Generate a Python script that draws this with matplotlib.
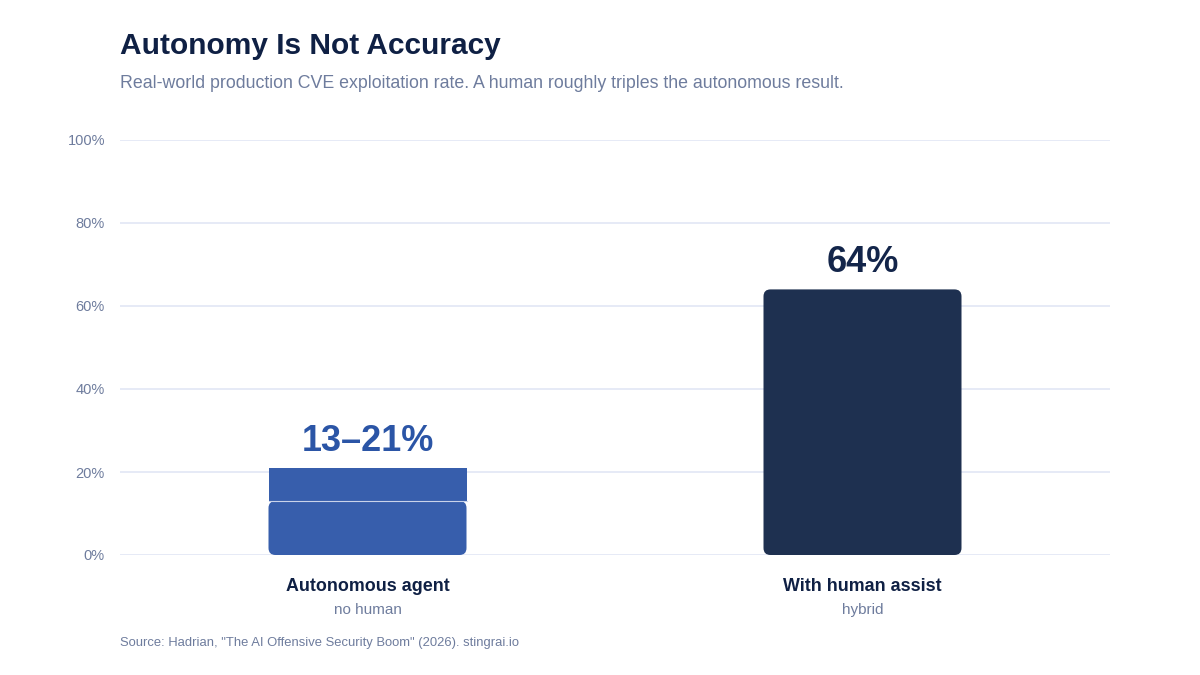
import matplotlib.pyplot as plt
from matplotlib.patches import FancyBboxPatch, Rectangle

plt.rcParams['font.family'] = ['Liberation Sans', 'DejaVu Sans']

# data
categories = ["Autonomous agent", "With human assist"]
sublabels = ["no human", "hybrid"]
range_low = [13, None]
range_high = [21, 64]
value_labels = ["13\u201321%", "64%"]
yticks = [0, 20, 40, 60, 80, 100]

bar_colors = ["#375EAC", "#1E3050"]
label_colors = ["#2B55A6", "#13254A"]
grid_c = "#E6EAF6"
muted = "#6E7C9D"
dark = "#0F2044"

fig = plt.figure(figsize=(12, 6.75), dpi=100)
ax = fig.add_axes([0.1, 1 - 555 / 675, 0.825, 415 / 675])
ax.set_xlim(-0.5, 1.5)
ax.set_ylim(0, 100)

w = 0.4
# data units per pixel, to keep corners round
xpp = 2.0 / 990
ypp = 100.0 / 415
r = 7 * xpp
asp = ypp / xpp

for i, cat in enumerate(categories):
    lo = range_low[i]
    hi = range_high[i]
    bottom_top = lo if lo is not None else hi
    p = FancyBboxPatch((i - w / 2, 0), w, bottom_top,
                       boxstyle="round,pad=0,rounding_size=%f" % r,
                       mutation_aspect=asp, fc=bar_colors[i], ec="none", zorder=3)
    ax.add_patch(p)
    if lo is not None:
        ax.add_patch(Rectangle((i - w / 2, lo), w, hi - lo, fc=bar_colors[i],
                               ec="none", zorder=3))
        ax.plot([i - w / 2, i + w / 2], [lo, lo], color="#C9D3EA", lw=0.8, zorder=4)
    ax.annotate(value_labels[i], (i, hi), xytext=(0, 6.5), textcoords="offset points",
                ha="center", va="bottom", fontsize=26, fontweight="bold",
                color=label_colors[i])
    ax.text(i, -7.5, cat, ha="center", va="center", fontsize=12.9,
            fontweight="bold", color=dark)
    ax.text(i, -13.3, sublabels[i], ha="center", va="center", fontsize=11,
            color=muted)

for y in yticks:
    ax.axhline(y, color=grid_c, lw=1.4, zorder=1)
ax.set_yticks(yticks)
ax.set_yticklabels(["%d%%" % y for y in yticks])
ax.tick_params(axis="y", length=0, pad=10.8, labelsize=10.5, labelcolor=muted)
ax.set_xticks([])
for s in ax.spines.values():
    s.set_visible(False)

fig.text(120 / 1200, 1 - 46 / 675, "Autonomy Is Not Accuracy", fontsize=21.5,
         fontweight="bold", color=dark, va="center", ha="left")
fig.text(120 / 1200, 1 - 84 / 675,
         "Real-world production CVE exploitation rate. A human roughly triples the autonomous result.",
         fontsize=12.75, color=muted, va="center", ha="left")
fig.text(120 / 1200, 1 - 643 / 675,
         "Source: Hadrian, \"The AI Offensive Security Boom\" (2026). stingrai.io",
         fontsize=9.4, color=muted, va="center", ha="left")

fig.savefig("out.png", dpi=100, facecolor="white")
